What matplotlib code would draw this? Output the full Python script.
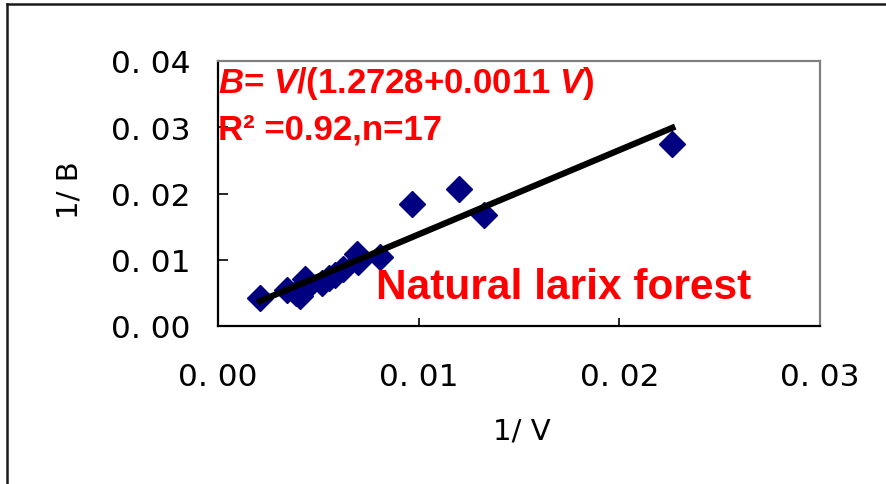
import numpy as np
import matplotlib
matplotlib.use("Agg")
import matplotlib.pyplot as plt
from matplotlib.lines import Line2D

# 1/V vs 1/B, natural larix forest (n=17)
inv_v = [0.00209, 0.00343, 0.00388, 0.00408, 0.00433, 0.00443, 0.00517, 0.00552, 0.00582,
         0.00622, 0.00692, 0.00697, 0.00806, 0.00965, 0.01199, 0.01328, 0.02264]
inv_b = [0.00430, 0.00536, 0.00498, 0.00460, 0.00709, 0.00589, 0.00649, 0.00724, 0.00770,
         0.00860, 0.01087, 0.00966, 0.01042, 0.01842, 0.02068, 0.01668, 0.02747]
SLOPE, INTERCEPT = 1.2728, 0.0011   # 1/B = 1.2728/V + 0.0011
xticks = [0.00, 0.01, 0.02, 0.03]
yticks = [0.00, 0.01, 0.02, 0.03, 0.04]

W, H = 886, 485
def fx(px): return px / W
def fy(py): return 1 - py / H

plt.rcParams["mathtext.fontset"] = "custom"
plt.rcParams["mathtext.it"] = "Liberation Sans:italic:bold"
plt.rcParams["mathtext.rm"] = "Liberation Sans:bold"

fig = plt.figure(figsize=(W/100, H/100), dpi=100)
ax = fig.add_axes([fx(218), fy(327), fx(820) - fx(218), fy(62) - fy(327)])

ax.plot(inv_v, inv_b, "D", color="#000080", ms=13.5, mec="#000080", zorder=3)
lx = np.array([min(inv_v), max(inv_v)])
ax.plot(lx, SLOPE*lx + INTERCEPT, "-", color="black", lw=4.5, zorder=4)

ax.set_xlim(0, 0.03); ax.set_ylim(0, 0.04)
ax.set_xticks(xticks); ax.set_yticks(yticks)
ax.set_xticklabels([f"{v:.2f}".replace(".", ". ") for v in xticks])
ax.set_yticklabels([f"{v:.2f}".replace(".", ". ") for v in yticks])
ax.tick_params(axis="y", direction="in", length=7, width=1.2, labelsize=22.5, pad=20)
ax.tick_params(axis="x", direction="in", length=6, width=1.2, labelsize=22.5, pad=26)
for s in ("left", "bottom"):
    ax.spines[s].set_color("black"); ax.spines[s].set_linewidth(1.6)
for s in ("top", "right"):
    ax.spines[s].set_color("#808080"); ax.spines[s].set_linewidth(1.6)

fig.text(fx(522), fy(432), "1/ V", fontsize=21, ha="center", va="center")
fig.text(fx(70), fy(190), "1/ B", fontsize=21, ha="center", va="center", rotation=90)

red = dict(color="red", family="Liberation Sans", weight="bold", va="baseline", ha="left")
fig.text(fx(218), fy(93), r"$\mathit{B}$= $\mathit{V}$/(1.2728+0.0011 $\mathit{V}$)", fontsize=25, **red)
fig.text(fx(218), fy(140), "R² =0.92,n=17", fontsize=25, **red)
fig.text(fx(376), fy(299), "Natural larix forest", fontsize=30.5, **red)

# outer frame (left and top only visible)
fig.add_artist(Line2D([fx(7), fx(7)], [0, fy(5)], color="#1a1a1a", lw=1.8))
fig.add_artist(Line2D([fx(7), 1], [fy(5), fy(5)], color="#1a1a1a", lw=1.8))

fig.savefig("out.png", dpi=100)
